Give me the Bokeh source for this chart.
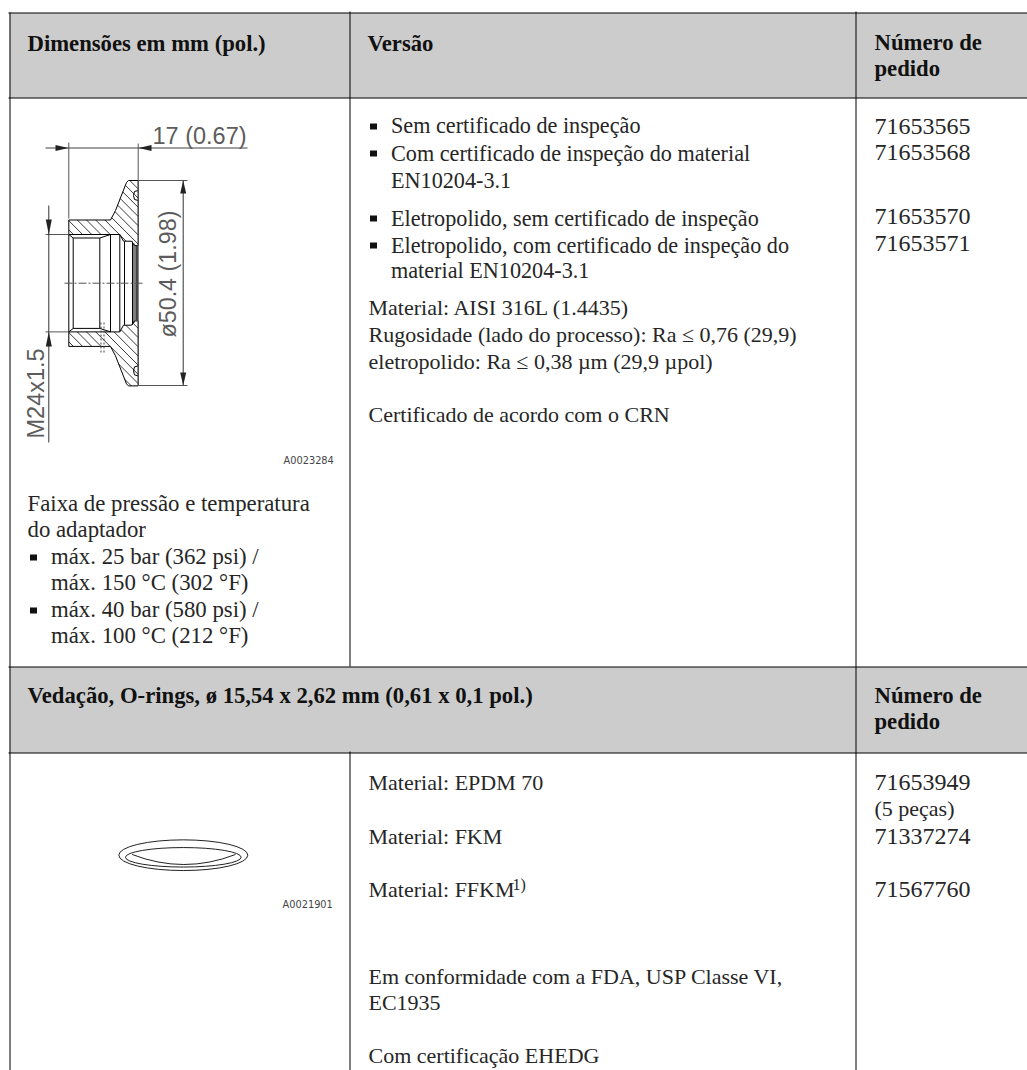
from bokeh.plotting import figure
from bokeh.models import Range1d
from bokeh.core.properties import value
from bokeh.embed import file_html
from bokeh.resources import INLINE

# ---- text content ----
header_texts = ["Dimensões em mm (pol.)", "Versão", "Número de", "pedido",
                "Vedação, O-rings, ø 15,54 x 2,62 mm (0,61 x 0,1 pol.)", "Número de", "pedido"]
version_texts = ["Sem certificado de inspeção", "Com certificado de inspeção do material", "EN10204-3.1",
                 "Eletropolido, sem certificado de inspeção", "Eletropolido, com certificado de inspeção do",
                 "material EN10204-3.1"]
note_texts = ["Material: AISI 316L (1.4435)", "Rugosidade (lado do processo): Ra ≤ 0,76 (29,9)",
              "eletropolido: Ra ≤ 0,38 µm (29,9 µpol)", "Certificado de acordo com o CRN",
              "Material: EPDM 70", "Material: FKM", "Material: FFKM",
              "Em conformidade com a FDA, USP Classe VI,", "EC1935", "Com certificação EHEDG"]
order_numbers = ["71653565", "71653568", "71653570", "71653571", "71653949", "71337274", "71567760"]
order_note = ["(5 peças)"]
range_texts = ["Faixa de pressão e temperatura", "do adaptador"]
range_bullets = ["máx. 25 bar (362 psi) /", "máx. 150 °C (302 °F)", "máx. 40 bar (580 psi) /", "máx. 100 °C (212 °F)"]
drawing_ids = ["A0023284", "A0021901"]

# ---- layout (page pixels) ----
BODY_FONT = "Liberation Serif"
INK = "#262626"
DIM = "#5c5c5c"

header_x = [27, 367, 874, 874, 27, 874, 874]
header_y = [50, 50, 49, 75, 702, 702, 728]
version_y = [132, 160, 187, 225, 252, 277]
note_x = [368] * 10
note_y = [314, 341, 368, 421, 789, 843, 896, 983, 1009, 1062]
order_y = [134, 160, 224, 251, 790, 844, 897]
range_y = [511, 537]
range_bullet_y = [564, 590, 617, 643]

p = figure(width=1027, height=1070, toolbar_location=None, output_backend="svg",
           x_range=Range1d(0, 1027), y_range=Range1d(1070, 0),
           x_axis_type=None, y_axis_type=None, min_border=0, outline_line_color=None,
           background_fill_color="white", border_fill_color="white")
p.grid.visible = False

# header bands
p.quad(left=[9, 9], right=[1027, 1027], top=[12.5, 666.5], bottom=[97.5, 752.5],
       fill_color="#cccccc", line_color=None)

# table rules
p.segment(x0=[8, 8, 8, 8], x1=[1027] * 4, y0=[12.5, 97.5, 666.5, 752.5], y1=[12.5, 97.5, 666.5, 752.5],
          line_color="black", line_width=1)
p.segment(x0=[9.5, 349.5, 349.5, 855.5], x1=[9.5, 349.5, 349.5, 855.5],
          y0=[12, 11, 751, 11], y1=[1070, 666, 1070, 1070], line_color="black", line_width=1)


def txt(xs, ys, texts, font=BODY_FONT, size=22.0, color=INK, style="normal", angle=0):
    shift = 0.33 * size
    if angle:
        xs = [v - shift for v in xs]
    else:
        ys = [v - shift for v in ys]
    p.text(x=xs, y=ys, text=texts, text_font=value(font), text_font_size=value(f"{size}px"), text_color=color,
           text_font_style=style, text_baseline="alphabetic", text_align="left", angle=angle)


txt(header_x, header_y, header_texts, color="#111111", style="bold", size=22.7)
txt([390.5] * 6, version_y, version_texts, size=22.2)
txt(note_x, note_y, note_texts)
txt([874] * 7, order_y, order_numbers, size=24)
txt([874], [815], order_note)
txt([27, 27], range_y, range_texts, size=22.8)
txt([50.5] * 4, range_bullet_y, range_bullets, size=22.8)
txt([512], [889], ["1)"], size=16)
txt([283, 282], [463, 907], drawing_ids, font="DejaVu Sans", size=9.8, color="#444444")

# bullets
bx = [373] * 4 + [33] * 2
by = [version_y[0] + 1, version_y[1], version_y[3], version_y[4], range_bullet_y[0], range_bullet_y[2]]
p.rect(x=bx, y=[v - 7 for v in by], width=7, height=6, fill_color="#111111", line_color=None)

# ---- adapter section drawing ----
cy = 282.7


def mirror(pts):
    return [(x, 2 * cy - y) for x, y in pts]


def poly(pts, color="black", width=1.0):
    p.line([a for a, _ in pts], [b for _, b in pts], line_color=color, line_width=width)


section = [(68.3, 219.5), (110, 219.5), (115, 210), (126, 182), (128, 180), (137.7, 180), (137.7, 245),
           (134, 245), (131, 240.7), (123, 240.7), (119.3, 234), (68.3, 234), (68.3, 219.5)]


def hatch(pts, step=9.2):
    xs0, xs1, ys0, ys1 = [], [], [], []
    lo = min(x - y for x, y in pts)
    hi = max(x - y for x, y in pts)
    c = lo + step / 2
    while c < hi:
        hits = []
        for (ax, ay), (bx_, by_) in zip(pts, pts[1:]):
            da, db = ax - ay - c, bx_ - by_ - c
            if da * db < 0:
                t = da / (da - db)
                hits.append((ax + t * (bx_ - ax), ay + t * (by_ - ay)))
        hits.sort()
        for i in range(0, len(hits) - 1, 2):
            xs0.append(hits[i][0]); ys0.append(hits[i][1])
            xs1.append(hits[i + 1][0]); ys1.append(hits[i + 1][1])
        c += step
    p.segment(x0=xs0, x1=xs1, y0=ys0, y1=ys1, line_color="#222222", line_width=0.9)


hatch(section)
hatch(mirror(section))
poly(section)
poly(mirror(section))
p.segment(x0=[68.3], x1=[68.3], y0=[234], y1=[331.4], line_color="black", line_width=1)

# bore
p.segment(x0=[72.7, 99.3, 110, 119.3, 124, 136.7, 132, 133.5],
          x1=[72.7, 99.3, 110, 119.3, 124, 136.7, 132, 133.5],
          y0=[237.5, 237.5, 234, 234, 241, 245, 241, 243],
          y1=[327.9, 327.9, 331.4, 331.4, 324.4, 320.4, 324.4, 322.4], line_color="black", line_width=1)
thread_top = [(68.3, 234), (72.7, 237.5), (99.3, 237.5), (110, 234)]
poly(thread_top)
poly(mirror(thread_top))
p.quad(left=[134.8], right=[137.5], top=[245], bottom=[320.4], fill_color="#444444", line_color=None)
groove = [(137.7, 190), (134, 191), (133, 195), (134, 199), (137.7, 200)]
poly(groove)
poly(mirror(groove))

# centre line and hidden thread
p.line([64, 143], [cy, cy], line_color="#555555", line_width=1, line_dash="8 2 2 2")
p.segment(x0=[100.5, 103.5], x1=[100.5, 103.5], y0=[322, 322], y1=[352, 352],
          line_color="#444444", line_width=1, line_dash="2 2")

# dimension lines
p.line([45, 247], [147.5, 147.5], line_color="#808080", line_width=1.5)
p.segment(x0=[68.3, 137.7, 137.7, 137.7, 45, 45], x1=[68.3, 137.7, 187, 187, 68.3, 68.3],
          y0=[142, 143, 180, 385, 234, 331.4], y1=[218, 385, 180, 385, 234, 331.4],
          line_color="#555555", line_width=1)
p.segment(x0=[182.7, 48.3], x1=[182.7, 48.3], y0=[180, 205], y1=[385, 442], line_color="#333333", line_width=1)
p.patches(
    xs=[[55, 68, 55], [151, 138, 151], [179.7, 182.7, 185.7], [179.7, 182.7, 185.7], [45.3, 48.3, 51.3], [45.3, 48.3, 51.3]],
    ys=[[144.5, 147.5, 150.5], [144.5, 147.5, 150.5], [193, 180, 193], [372, 385, 372], [219, 234, 219], [346, 331.4, 346]],
    fill_color="#222222", line_color=None)

txt([152], [143], ["17 (0.67)"], font="Liberation Sans", size=23.5, color=DIM)
txt([175.5], [337], ["ø50.4 (1.98)"], font="Liberation Sans", size=23.3, color=DIM, angle=1.5708)
txt([43], [438], ["M24x1.5"], font="Liberation Sans", size=23.5, color=DIM, angle=1.5708)

# ---- O-ring drawing ----
p.ellipse(x=[182.8, 182.8], y=[854.7, 856.8], width=[129, 115.7], height=[30.7, 19.5],
          fill_color=None, line_color="#222222", line_width=1)
p.quadratic(x0=[131.7], y0=[854], x1=[235], y1=[854], cx=[183.3], cy=[874], line_color="#222222", line_width=1)

open("out.html", "w").write(file_html(p, INLINE))
